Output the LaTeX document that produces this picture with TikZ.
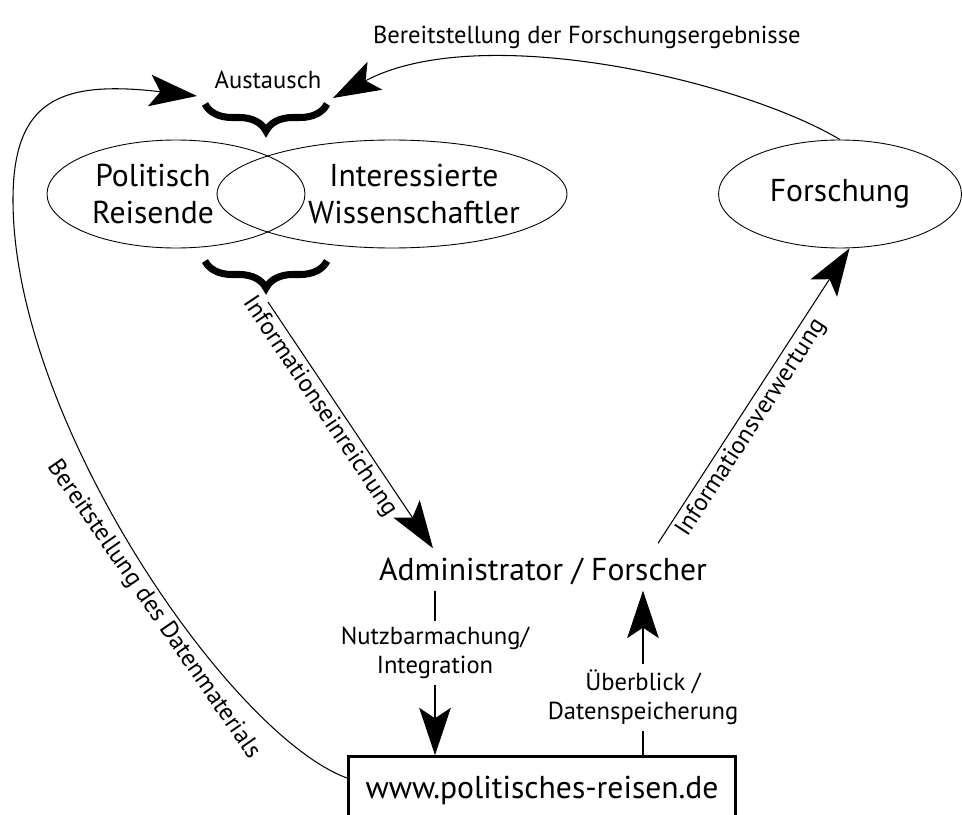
\documentclass[tikz,border=0pt]{standalone}
\usepackage{fontspec}
\setmainfont{PT Sans}
\usetikzlibrary{shapes.geometric,arrows.meta,decorations.pathreplacing,calc}
\tikzset{
    bigtext/.style={font=\fontsize{18}{21.5}\selectfont},
    smalltext/.style={font=\fontsize{14}{16.5}\selectfont, inner sep=2pt},
    venn/.style={draw, ellipse, line width=0.5pt, minimum height=2.16cm},
    flow/.style={-{Stealth[length=27pt,width=18pt,inset=6pt]}, line width=0.6pt},
    curly/.style={decorate, decoration={brace, amplitude=0.54cm}, line width=4pt}
}

\begin{document}
\begin{tikzpicture}[x=0.02cm, y=-0.02cm]
    \clip (0,0) rectangle (962,814);
    \fill[white] (0,0) rectangle (962,814);

    \node[venn, minimum width=5.16cm] (reisende) at (176,194) {};
    \node[venn, minimum width=7cm] (wiss) at (392,194) {};
    \node[bigtext, align=center] (reisendeT) at (153,194) {Politisch\\Reisende};
    \node[bigtext, align=center] (wissT) at (414,194) {Interessierte\\Wissenschaftler};
    \node[venn, minimum width=4.86cm, bigtext] (forschung) at (840,194) {Forschung};

    \node[smalltext] (austausch) at (268,80) {Austausch};
    \draw[curly] (327,104) -- (205,104);
    \draw[curly] (327,261) -- (205,261);
    \coordinate (ausL) at (197,96);
    \coordinate (ausR) at (333,98);
    \coordinate (einreichung) at (268,302);

    \node[bigtext] (admin) at (543,571) {Administrator / Forscher};
    \node[draw, line width=1.5pt, minimum width=7.75cm, minimum height=1.34cm, bigtext] (portal) at (542,790) {www.politisches-reisen.de};

    \draw[flow] (einreichung) -- node[smalltext, sloped, pos=0.39, below] {Informationseinreichung} ($(admin.north)+(-110,-3)$);
    \draw[flow] ($(admin.north)+(115,-8)$) -- node[smalltext, sloped, pos=0.42, below] {Informationsverwertung} (forschung.-80);

    \draw[flow] ($(admin.south)+(-108,0)$) -- node[smalltext, fill=white, align=center, inner sep=3.5pt, pos=0.38] {Nutzbarmachung/\\Integration} ($(portal.north)+(-107,0)$);
    \draw[flow] ($(portal.north)+(101,0)$) -- node[smalltext, fill=white, align=center, inner sep=3.5pt, pos=0.35] {Überblick /\\Datenspeicherung} ($(admin.south)+(100,0)$);

    \draw[flow] (forschung.north) .. controls (740,80) and (480,20) .. (ausR)
        node[smalltext, pos=0.53, above=7pt] {Bereitstellung der Forschungsergebnisse};
    \draw[flow] ($(portal.west)+(0,-12)$) .. controls (230,735) and (13,420) .. (13,200)
        node[smalltext, sloped, pos=0.43, below] {Bereitstellung des Datenmaterials}
        .. controls (13,100) and (60,80) .. (ausL);
\end{tikzpicture}
\end{document}
